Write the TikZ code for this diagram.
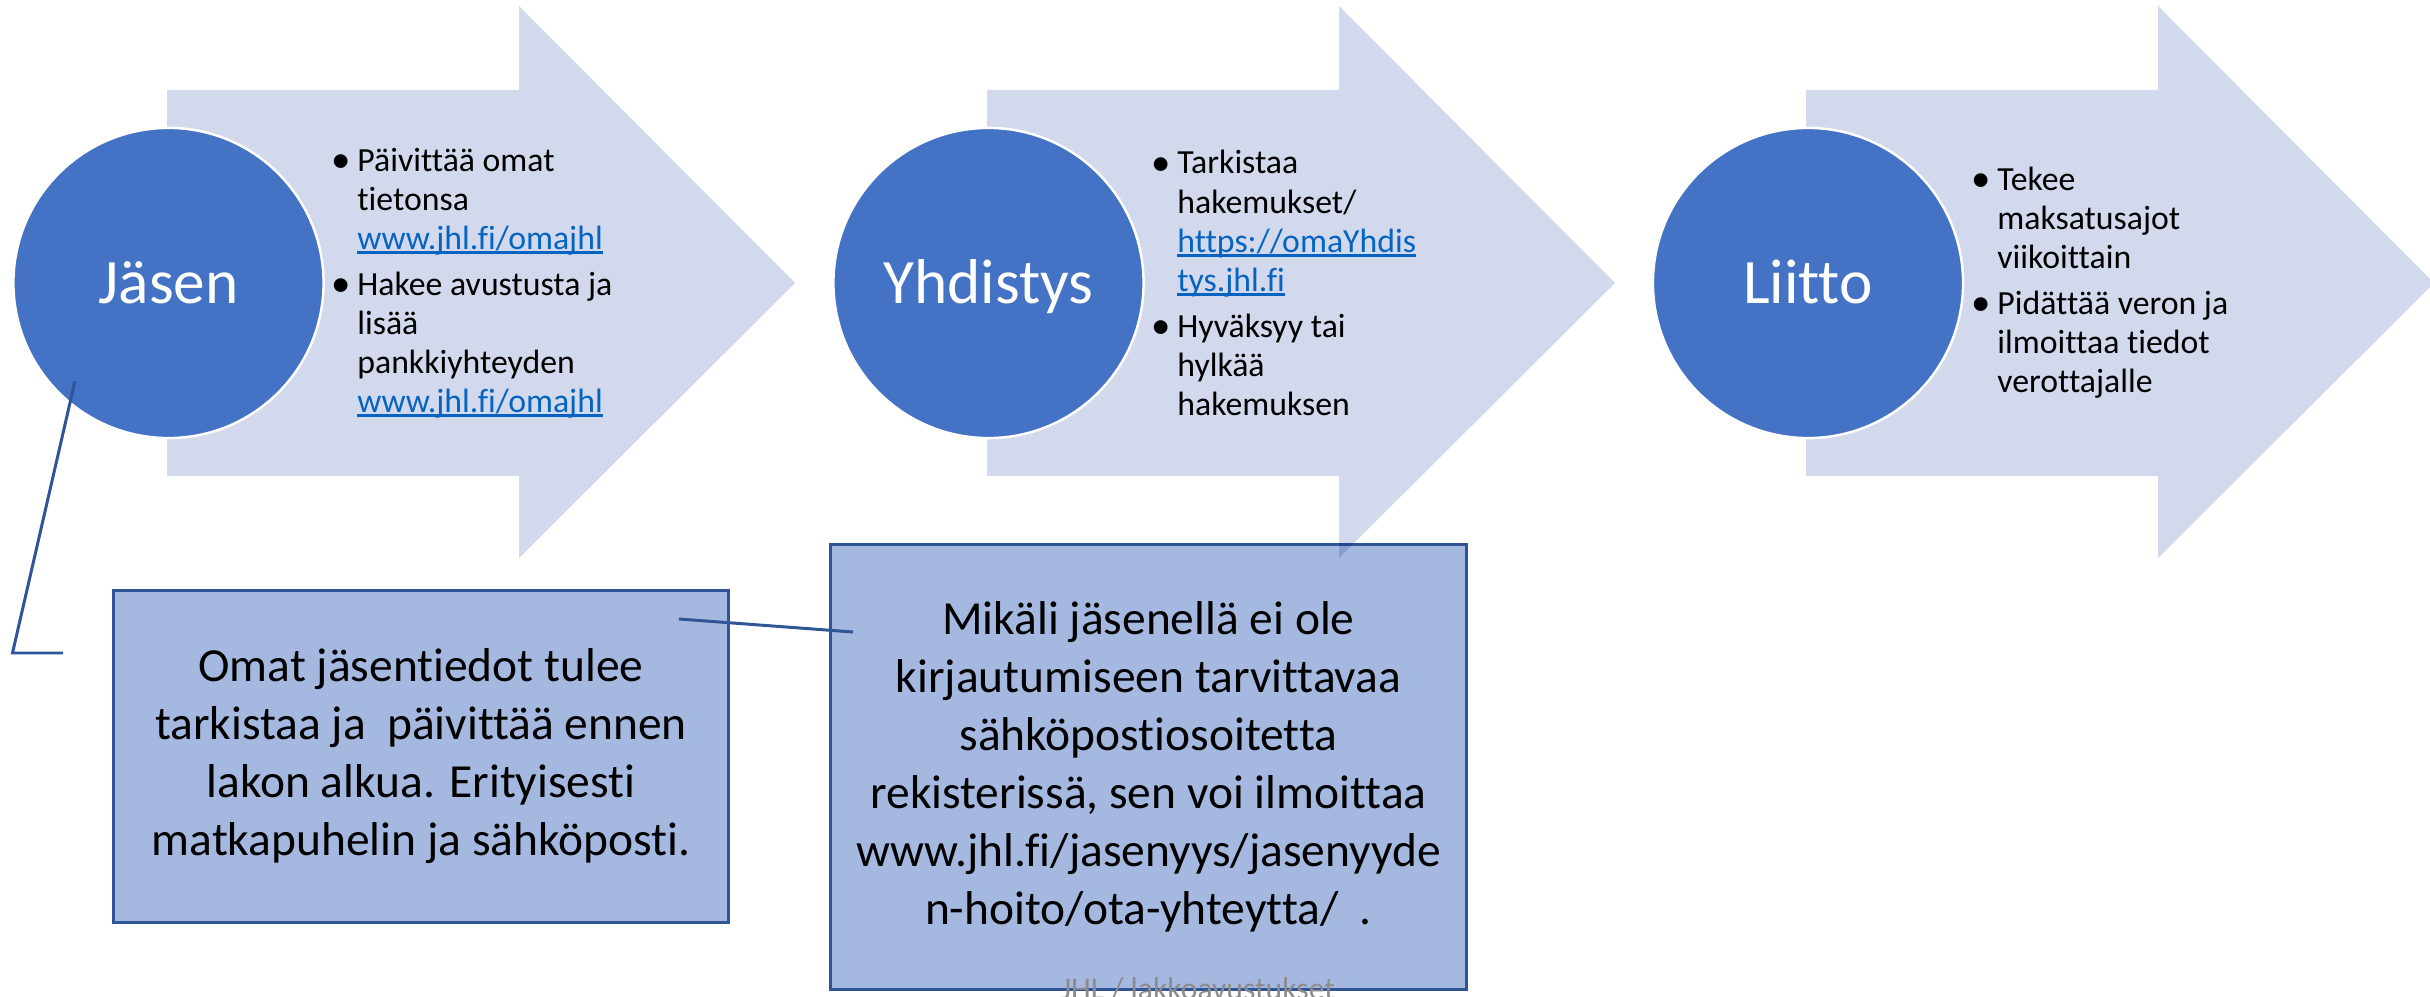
\documentclass[tikz,border=0pt]{standalone}
\usepackage{fontspec}
\setmainfont{Carlito}[Ligatures=NoCommon]
\usetikzlibrary{positioning}
\definecolor{circleblue}{HTML}{4472C4}
\definecolor{arrowfill}{HTML}{D2D9EC}
\definecolor{notefill}{HTML}{A5B8E0}
\definecolor{noteline}{HTML}{2F5597}
\definecolor{linkblue}{HTML}{0563C1}
\definecolor{footergray}{HTML}{8C8C8C}
\newcommand{\bul}{\makebox[7.3pt][l]{\raisebox{-0.3pt}{\scalebox{1.15}{\textbullet}}}}
\newcommand{\ind}{\hspace*{7.3pt}}
\newcommand{\link}[1]{\textcolor{linkblue}{\setbox0\hbox{#1}\rlap{\vrule height -0.5pt depth 1.3pt width \wd0}\box0}}

\begin{document}
\begin{tikzpicture}[
    x=0.01cm, y=-0.01cm,
    stepcircle/.style={circle, fill=circleblue, draw=white, line width=0.7pt,
                       minimum size=3.1cm, inner sep=0pt, text=white,
                       font=\fontsize{18}{21}\selectfont,
                       text height=11.6pt, text depth=0pt},
    bullets/.style={anchor=west, align=left, inner sep=0pt,
                    font=\fontsize{9.6}{11.1}\selectfont},
    note/.style={rectangle, fill=notefill, draw=noteline, line width=0.85pt,
                 align=center, inner sep=0pt,
                 font=\fontsize{13.5}{16.5}\selectfont},
    callout/.style={draw=noteline, line width=0.85pt}
]
\useasboundingbox (0,0) rectangle (2430,997);

% Notes below
\node[note, minimum width=6.14cm, minimum height=3.31cm] (omat) at (421,756.5)
  {Omat jäsentiedot tulee\\tarkistaa ja~ päivittää ennen\\lakon alkua. Erityisesti\\matkapuhelin ja sähköposti.};
\node[note, minimum width=6.35cm, minimum height=4.44cm] (mikali) at (1148.5,767)
  {Mikäli jäsenellä ei ole\\kirjautumiseen tarvittavaa\\sähköpostiosoitetta\\rekisterissä, sen voi ilmoittaa\\www.jhl.fi/jasenyys/jasenyyde\\n-hoito/ota-yhteytta/~ .};

% Process arrows
\begin{scope}[blend mode=multiply]
\foreach \dx in {0,820,1639}
  \fill[arrowfill] (167+\dx,90) -- (519+\dx,90) -- (519+\dx,6) -- (795+\dx,283)
    -- (519+\dx,558) -- (519+\dx,476) -- (167+\dx,476) -- cycle;
\end{scope}

% Circles
\node[stepcircle] (jasen) at (168.5,283) {Jäsen};
\node[stepcircle] (yhdistys) at (988.5,283) {Yhdistys};
\node[stepcircle] (liitto) at (1808,283) {Liitto};

% Bullet texts
\node[bullets] (jasentext) at (331,283)
  {\bul Päivittää omat\\\ind tietonsa\\\ind\link{www.jhl.fi/omajhl}\\[2pt]\bul Hakee avustusta ja\\\ind lisää\\\ind pankkiyhteyden\\\ind\link{www.jhl.fi/omajhl}};
\node[bullets] (yhdistystext) at (1151,283)
  {\bul Tarkistaa\\\ind hakemukset/\\\ind\link{https://omaYhdis}\\\ind\link{tys.jhl.fi}\\[2pt]\bul Hyväksyy tai\\\ind hylkää\\\ind hakemuksen};
\node[bullets] (liittotext) at (1971,283)
  {\bul Tekee\\\ind maksatusajot\\\ind viikoittain\\[2pt]\bul Pidättää veron ja\\\ind ilmoittaa tiedot\\\ind verottajalle};

% Callout lines
\coordinate (calloutA) at (75,381);
\coordinate (bendA) at (12.5,653);
\coordinate (endA) at (63,653);
\draw[callout] (calloutA) -- (bendA) -- (endA);
\coordinate (calloutB) at (679,619);
\coordinate (endB) at (853,632);
\draw[callout] (calloutB) -- (endB);

% Footer
\node[font=\fontsize{9}{10}\selectfont, text=footergray, anchor=base, inner sep=0pt] (footer) at (1198,999) {JHL / lakkoavustukset};
\end{tikzpicture}
\end{document}
